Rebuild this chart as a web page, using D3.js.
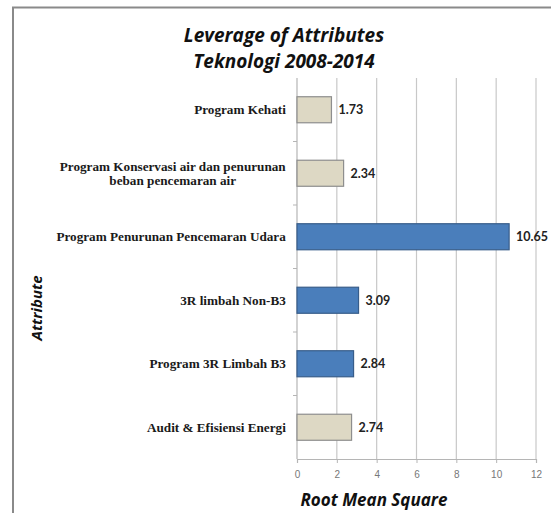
<!DOCTYPE html>
<html>
<head>
<meta charset="utf-8">
<script src="https://cdn.jsdelivr.net/npm/d3@7"></script>
<style>
  html, body { margin: 0; padding: 0; background: #fff; }
  svg { display: block; }
</style>
</head>
<body>
<svg id="chart" width="551" height="513"></svg>
<script>
// Attributes, top to bottom
const categories = [
  "Program Kehati",
  "Program Konservasi air dan penurunan|beban pencemaran air",
  "Program Penurunan Pencemaran Udara",
  "3R limbah Non-B3",
  "Program 3R Limbah B3",
  "Audit & Efisiensi Energi"
];
const values = [1.73, 2.34, 10.65, 3.09, 2.84, 2.74];
// which bars are highlighted in blue
const highlighted = [false, false, true, true, true, false];
const xTicks = [0, 2, 4, 6, 8, 10, 12];
const titleLines = ["Leverage of Attributes", "Teknologi 2008-2014"];

const svg = d3.select("#chart");
const W = 551, H = 513;

// outer frame
svg.append("rect").attr("x", 0).attr("y", 0).attr("width", W).attr("height", H).attr("fill", "#fff");
svg.append("path")
  .attr("d", `M13,${H} L13,7.5 L${W},7.5`)
  .attr("fill", "none").attr("stroke", "#8a8a8a").attr("stroke-width", 2);

const plot = { left: 297, right: 536, top: 78, bottom: 459 };

const x = d3.scaleLinear().domain([0, 12]).range([plot.left, plot.right]);
const y = d3.scaleBand().domain(categories).range([plot.top, plot.bottom]).paddingInner(0.59).paddingOuter(0.295);

// vertical gridlines
svg.append("g").selectAll("line").data(xTicks.slice(1)).join("line")
  .attr("x1", d => x(d)).attr("x2", d => x(d))
  .attr("y1", plot.top).attr("y2", plot.bottom)
  .attr("stroke", "#c8c8c8").attr("stroke-width", 1.2);

// x axis
const xAxis = svg.append("g").attr("transform", `translate(0,${plot.bottom})`)
  .call(d3.axisBottom(x).tickValues(xTicks).tickSize(4).tickPadding(8));
xAxis.select(".domain").attr("stroke", "#b5b5b5").attr("stroke-width", 1.2);
xAxis.selectAll(".tick line").attr("stroke", "#b5b5b5");
xAxis.selectAll("text")
  .attr("fill", "#777").attr("font-family", "Liberation Sans, Arial, sans-serif").attr("font-size", 10);

// y axis line with tick marks at band boundaries
const boundaries = d3.range(categories.length + 1).map(i => plot.top + i * (plot.bottom - plot.top) / categories.length);
svg.append("line")
  .attr("x1", plot.left).attr("x2", plot.left)
  .attr("y1", plot.top).attr("y2", plot.bottom)
  .attr("stroke", "#b5b5b5").attr("stroke-width", 1.2);
svg.append("g").selectAll("line").data(boundaries.slice(1, -1)).join("line")
  .attr("x1", plot.left - 4).attr("x2", plot.left)
  .attr("y1", d => d).attr("y2", d => d)
  .attr("stroke", "#b5b5b5");

// bars
svg.append("g").selectAll("rect").data(categories).join("rect")
  .attr("x", x(0))
  .attr("y", d => y(d))
  .attr("width", (d, i) => x(values[i]) - x(0))
  .attr("height", y.bandwidth())
  .attr("fill", (d, i) => highlighted[i] ? "#4a7ebb" : "#ddd8c4")
  .attr("stroke", (d, i) => highlighted[i] ? "#385d8a" : "#8e8e8e")
  .attr("stroke-width", 1.2);

// value labels
svg.append("g").selectAll("text").data(categories).join("text")
  .attr("x", (d, i) => x(values[i]) + 7)
  .attr("y", d => y(d) + y.bandwidth() / 2)
  .attr("dy", "0.36em")
  .attr("font-family", "Lato, 'Open Sans', sans-serif")
  .attr("font-weight", "bold")
  .attr("font-size", 12.5)
  .attr("fill", "#222")
  .text((d, i) => values[i].toFixed(2));

// category labels
const catG = svg.append("g");
categories.forEach(c => {
  const lines = c.split("|");
  const cy = y(c) + y.bandwidth() / 2;
  const lh = 14;
  const t = catG.append("text")
    .attr("text-anchor", "middle")
    .attr("font-family", "Liberation Serif, 'Times New Roman', serif")
    .attr("font-weight", "bold")
    .attr("font-size", 13.2)
    .attr("fill", "#1a1a1a");
  lines.forEach((ln, j) => {
    t.append("tspan")
      .attr("x", 0)
      .attr("y", cy + (j - (lines.length - 1) / 2) * lh)
      .attr("dy", "0.35em")
      .text(ln);
  });
  // right-align the block against the axis, centring lines within it
  const bw = t.node().getBBox().width;
  t.attr("transform", `translate(${286 - bw / 2},0)`);
});

// title
svg.append("g").selectAll("text").data(titleLines).join("text")
  .attr("x", 284)
  .attr("y", (d, i) => 42 + i * 26)
  .attr("text-anchor", "middle")
  .attr("font-family", "'Open Sans', Lato, sans-serif")
  .attr("font-weight", "bold")
  .attr("font-style", "italic")
  .attr("font-size", 19)
  .attr("fill", "#111")
  .text(d => d);

// axis titles
svg.append("text")
  .attr("x", 374).attr("y", 506)
  .attr("text-anchor", "middle")
  .attr("font-family", "'Open Sans', Lato, sans-serif")
  .attr("font-weight", "bold").attr("font-style", "italic")
  .attr("font-size", 17).attr("fill", "#111")
  .text("Root Mean Square");

svg.append("text")
  .attr("transform", "translate(42,308) rotate(-90)")
  .attr("text-anchor", "middle")
  .attr("font-family", "'Open Sans', Lato, sans-serif")
  .attr("font-weight", "bold").attr("font-style", "italic")
  .attr("font-size", 15).attr("fill", "#111")
  .text("Attribute");
</script>
</body>
</html>
